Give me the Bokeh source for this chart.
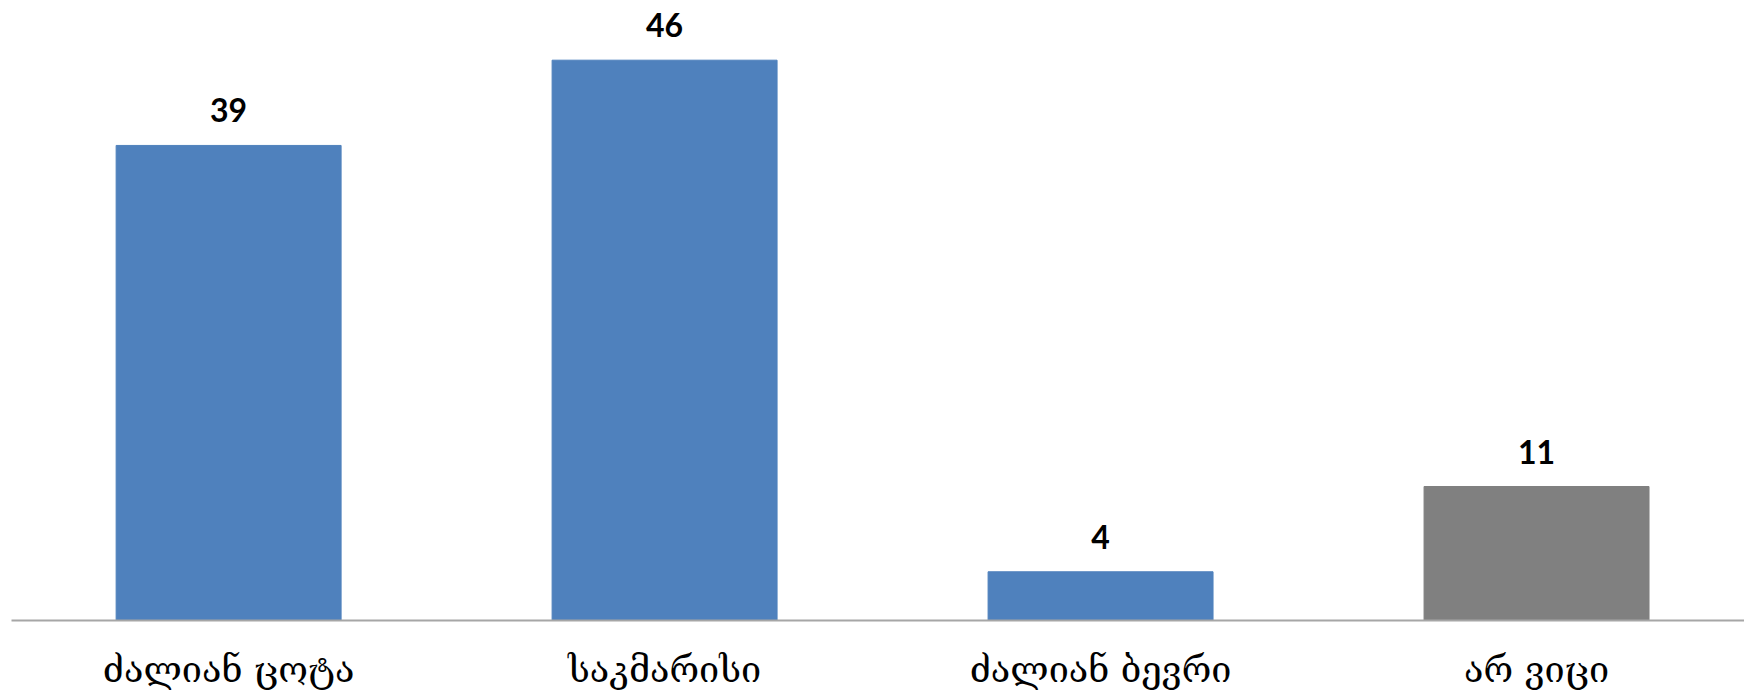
from bokeh.plotting import figure
from bokeh.models import ColumnDataSource, Range1d, FixedTicker
from bokeh.core.properties import value
from bokeh.embed import file_html
from bokeh.resources import INLINE

categories = ["ძალიან ცოტა", "საკმარისი", "ძალიან ბევრი", "არ ვიცი"]
values = [39, 46, 4, 11]
colors = ["#4f81bd", "#4f81bd", "#4f81bd", "#808080"]
labels = [str(v) for v in values]

xs = list(range(len(categories)))
src = ColumnDataSource(dict(x=xs, top=values, color=colors, label=labels))

p = figure(width=1744, height=694, output_backend="svg", toolbar_location=None,
           x_range=Range1d(-0.498, 3.477), y_range=Range1d(0, 50.9),
           min_border_left=11, min_border_right=0, min_border_top=0, min_border_bottom=74)
p.vbar(x="x", top="top", width=0.516, color="color", source=src)
p.text(x="x", y="top", text="label", source=src, text_align="center",
       text_baseline="alphabetic", y_offset=-35, text_font=value("Lato"),
       text_font_style="bold", text_font_size="32px", text_color="#000000")

p.yaxis.visible = False
p.xgrid.visible = False
p.ygrid.visible = False
p.outline_line_color = None
p.xaxis.ticker = FixedTicker(ticks=xs)
p.xaxis.major_label_overrides = {i: c for i, c in enumerate(categories)}
p.xaxis.major_tick_line_color = None
p.xaxis.minor_tick_line_color = None
p.xaxis.axis_line_color = "#a6a6a6"
p.xaxis.axis_line_width = 2
p.xaxis.major_label_standoff = 22
p.xaxis.major_label_text_font = "DejaVu Serif"
p.xaxis.major_label_text_font_size = "36px"
p.xaxis.major_label_text_color = "#000000"

open("out.html", "w").write(file_html(p, INLINE))
